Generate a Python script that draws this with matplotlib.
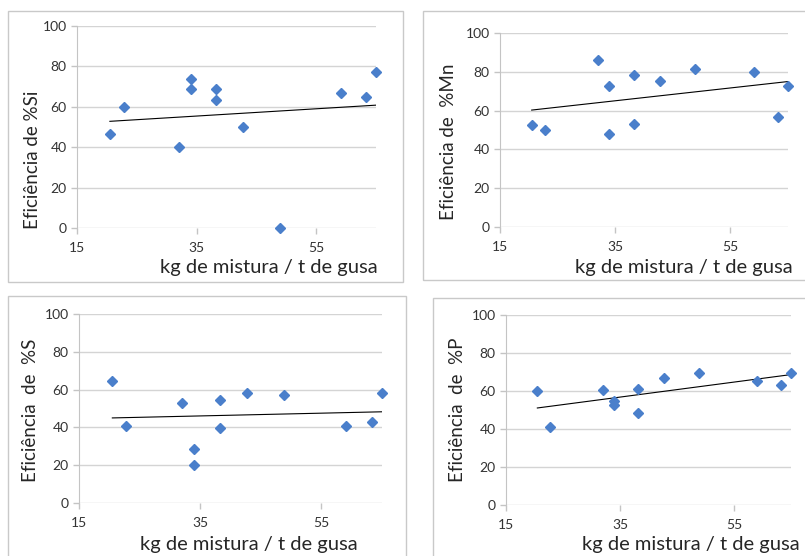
import matplotlib
matplotlib.use("Agg")
import matplotlib.pyplot as plt
import numpy as np
from matplotlib.patches import Rectangle

plt.rcParams['font.family'] = ['Lato', 'DejaVu Sans']

# kg de mistura / t de gusa (same for all four panels)
mistura = [20.5, 22.8, 32.0, 34.0, 34.0, 38.2, 38.2, 42.8, 48.9, 59.1, 63.3, 65.0]

ef_si = [46.5, 60.0, 40.0, 73.8, 68.6, 68.6, 63.4, 49.8, 0.0, 66.7, 64.8, 77.0]
ef_mn = [52.6, 50.0, 86.2, 72.8, 47.9, 78.4, 53.1, 75.3, 81.4, 79.7, 56.6, 72.8]
ef_s = [64.8, 41.0, 52.8, 28.7, 19.9, 54.6, 39.8, 58.1, 57.0, 40.8, 43.0, 58.1]
ef_p = [59.8, 40.9, 60.4, 54.9, 52.5, 61.2, 48.6, 67.0, 69.3, 65.1, 63.3, 69.6]

ylabels = ["Eficiência de %Si", "Eficiência de  %Mn",
           "Eficiência  de  %S", "Eficiência  de  %P"]
xlabel = "kg de mistura / t de gusa"
xticks = [15, 35, 55]
yticks = [0, 20, 40, 60, 80, 100]

W, H = 805, 556
fig = plt.figure(figsize=(W / 100, H / 100), dpi=100)

def fx(px):
    return px / W

def fy(py):
    return 1 - py / H

# chart frames (pixels: x0, y0, x1, y1)
frames = [(8, 11, 403, 282), (423, 11, 808, 280), (8, 296, 406, 560), (433, 298, 808, 560)]
# plot areas (pixels: left, top, right, bottom)
areas = [(77, 26, 376, 228), (500, 33, 788, 227), (79, 314, 382, 503), (506, 315, 791, 505)]
ylab_pos = [(32, 160), (448, 142), (30, 410), (457, 410)]
xlab_pos = [(378, 273), (793, 273), (358, 550), (800, 550)]
series = [ef_si, ef_mn, ef_s, ef_p]

for i in range(4):
    x0, y0, x1, y1 = frames[i]
    fig.patches.append(Rectangle((fx(x0), fy(y1)), fx(x1 - x0), (y1 - y0) / H,
                                 transform=fig.transFigure, fill=False,
                                 edgecolor="#c9c9c9", lw=1.0))
    l, t, r, b = areas[i]
    ax = fig.add_axes([fx(l), fy(b), fx(r - l), (b - t) / H])
    y = series[i]
    ax.set_xlim(15, 65)
    ax.set_ylim(0, 100)
    ax.set_xticks(xticks)
    ax.set_yticks(yticks)
    ax.grid(axis="y", color="#d4d4d4", lw=1.0)
    ax.set_axisbelow(True)
    for s in ["top", "right", "bottom"]:
        ax.spines[s].set_visible(False)
    ax.spines["left"].set_color("#c4c4c4")
    ax.tick_params(axis="both", colors="#c4c4c4", labelcolor="#333333",
                   labelsize=10, length=4, width=1)
    ax.tick_params(axis="x", pad=6)

    # linear trendline
    k, c = np.polyfit(mistura, y, 1)
    xs = np.array([min(mistura), max(mistura)])
    ax.plot(xs, k * xs + c, color="black", lw=0.8, zorder=3)
    ax.plot(mistura, y, linestyle="none", marker="D", markersize=5.3,
            color="#4a7fcb", zorder=4, clip_on=False)

    fig.text(fx(ylab_pos[i][0]), fy(ylab_pos[i][1]), ylabels[i], rotation=90,
             ha="center", va="center", fontsize=13.5, color="#262626")
    fig.text(fx(xlab_pos[i][0]), fy(xlab_pos[i][1]), xlabel, ha="right",
             va="baseline", fontsize=14.5, color="#262626")

fig.savefig("out.png", dpi=100)
